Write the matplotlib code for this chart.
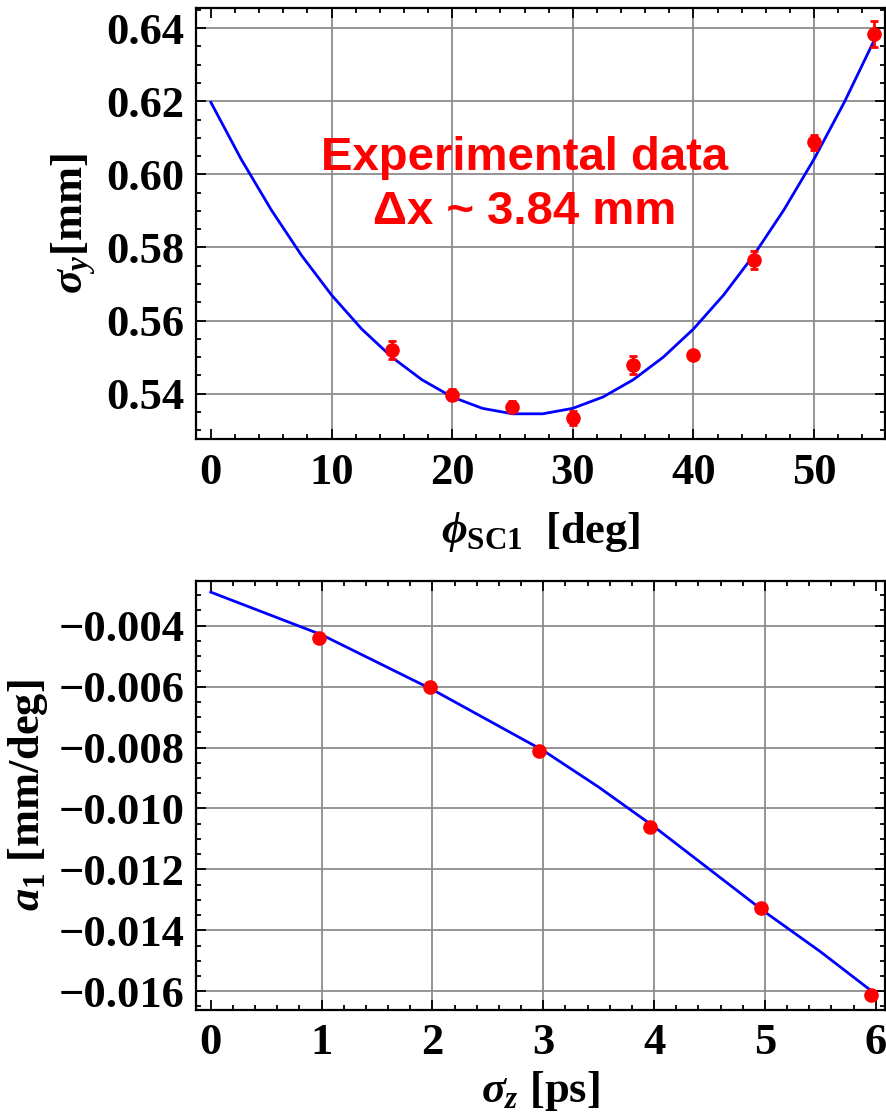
import matplotlib
matplotlib.use("Agg")
import matplotlib.pyplot as plt
from matplotlib.ticker import MultipleLocator, FuncFormatter

# --- top panel: sigma_y vs phi_SC1 (experiment) ---
phi_pts = [15, 20, 25, 30, 35, 40, 45, 50, 55]
sig_pts = [0.5520, 0.5397, 0.5364, 0.5334, 0.5479, 0.5506, 0.5765, 0.6088, 0.6384]
sig_err = [0.0025, 0.0015, 0.0015, 0.0020, 0.0025, 0.0008, 0.0025, 0.0020, 0.0035]

phi_fit = [0, 2.5, 5, 7.5, 10, 12.5, 15, 17.5, 20, 22.5, 25, 27.5,
           30, 32.5, 35, 37.5, 40, 42.5, 45, 47.5, 50, 52.5, 55]
sig_fit = [0.6197, 0.6042, 0.5903, 0.5779, 0.5670, 0.5577, 0.5500, 0.5438,
           0.5391, 0.5360, 0.5345, 0.5345, 0.5360, 0.5391, 0.5438, 0.5500,
           0.5577, 0.5670, 0.5779, 0.5903, 0.6042, 0.6197, 0.6368]

# --- bottom panel: a1 vs sigma_z ---
sz_pts = [0.98, 1.98, 2.96, 3.96, 4.96, 5.96]
a1_pts = [-0.00441, -0.00600, -0.00810, -0.01061, -0.01328, -0.01613]

sz_fit = [0, 0.5, 1, 1.5, 2, 2.5, 3, 3.5, 4, 4.5, 5, 5.5, 6]
a1_fit = [-0.0029, -0.0036, -0.0043, -0.0052, -0.0061, -0.0071, -0.0081,
          -0.0093, -0.0106, -0.0120, -0.0134, -0.0147, -0.0161]

plt.rcParams["font.family"] = ["Liberation Serif", "DejaVu Serif"]
plt.rcParams["font.weight"] = "bold"
plt.rcParams["axes.labelweight"] = "bold"
plt.rcParams["mathtext.fontset"] = "custom"
plt.rcParams["mathtext.rm"] = "Liberation Serif:bold"
plt.rcParams["mathtext.bf"] = "Liberation Serif:bold"
plt.rcParams["mathtext.it"] = "Liberation Serif:italic:bold"
plt.rcParams["mathtext.fallback"] = "stix"

fig = plt.figure(figsize=(8.86, 11.16), dpi=100)
ax1 = fig.add_axes([0.221, 0.6066, 0.7775, 0.3862])
ax2 = fig.add_axes([0.221, 0.0954, 0.7775, 0.3844])


def fmt(nd):
    return FuncFormatter(lambda v, p: ("%.*f" % (nd, v)).replace("-", "\u2212"))


def style(ax):
    ax.tick_params(which="both", direction="in", top=True, right=True,
                   labelsize=32, width=1.3)
    ax.tick_params(which="major", length=7)
    ax.tick_params(which="minor", length=3.5)
    ax.tick_params(axis="x", pad=10)
    ax.tick_params(axis="y", pad=8)
    for s in ax.spines.values():
        s.set_linewidth(1.6)
    ax.grid(True, which="major", color="#8c8c8c", lw=1.3)
    ax.set_axisbelow(True)


# top
ax1.plot(phi_fit, sig_fit, color="#0000ff", lw=2.0, zorder=2)
ax1.errorbar(phi_pts, sig_pts, yerr=sig_err, fmt="o", color="#ff0000",
             ms=9.5, elinewidth=2.0, capsize=3, capthick=2.0, zorder=3)
ax1.set_xlim(-1.25, 55.85)
ax1.set_ylim(0.5276, 0.6455)
ax1.set_xticks([0, 10, 20, 30, 40, 50])
ax1.xaxis.set_minor_locator(MultipleLocator(2))
ax1.set_yticks([0.54, 0.56, 0.58, 0.60, 0.62, 0.64])
ax1.yaxis.set_minor_locator(MultipleLocator(0.005))
ax1.yaxis.set_major_formatter(fmt(2))
style(ax1)
ax1.xaxis.get_gridlines()[0].set_visible(False)
ax1.set_xlabel(r"$\phi_{\mathrm{SC1}}$  [deg]", fontsize=32, labelpad=12)
ax1.set_ylabel(r"$\sigma_y$[mm]", fontsize=32, labelpad=6)
ax1.text(26.0, 0.5972, "Experimental data\n\u0394x ~ 3.84 mm", color="#ff0000",
         fontsize=34, fontweight="bold", ha="center", va="center",
         linespacing=1.3, family=["Liberation Sans", "DejaVu Sans"])

# bottom
ax2.plot(sz_fit, a1_fit, color="#0000ff", lw=2.0, zorder=2)
ax2.plot(sz_pts, a1_pts, "o", color="#ff0000", ms=9.5, zorder=3)
ax2.set_xlim(-0.135, 6.08)
ax2.set_ylim(-0.0166, -0.00252)
ax2.set_xticks([0, 1, 2, 3, 4, 5, 6])
ax2.xaxis.set_minor_locator(MultipleLocator(0.2))
ax2.set_yticks([-0.016, -0.014, -0.012, -0.010, -0.008, -0.006, -0.004])
ax2.yaxis.set_minor_locator(MultipleLocator(0.0005))
ax2.yaxis.set_major_formatter(fmt(3))
style(ax2)
gl = ax2.xaxis.get_gridlines()
gl[0].set_visible(False)
gl[-1].set_visible(False)
ax2.set_xlabel(r"$\sigma_z$ [ps]", fontsize=32, labelpad=4)
ax2.set_ylabel(r"$a_1$ [mm/deg]", fontsize=32, labelpad=6)

fig.savefig("out.png", dpi=100)
